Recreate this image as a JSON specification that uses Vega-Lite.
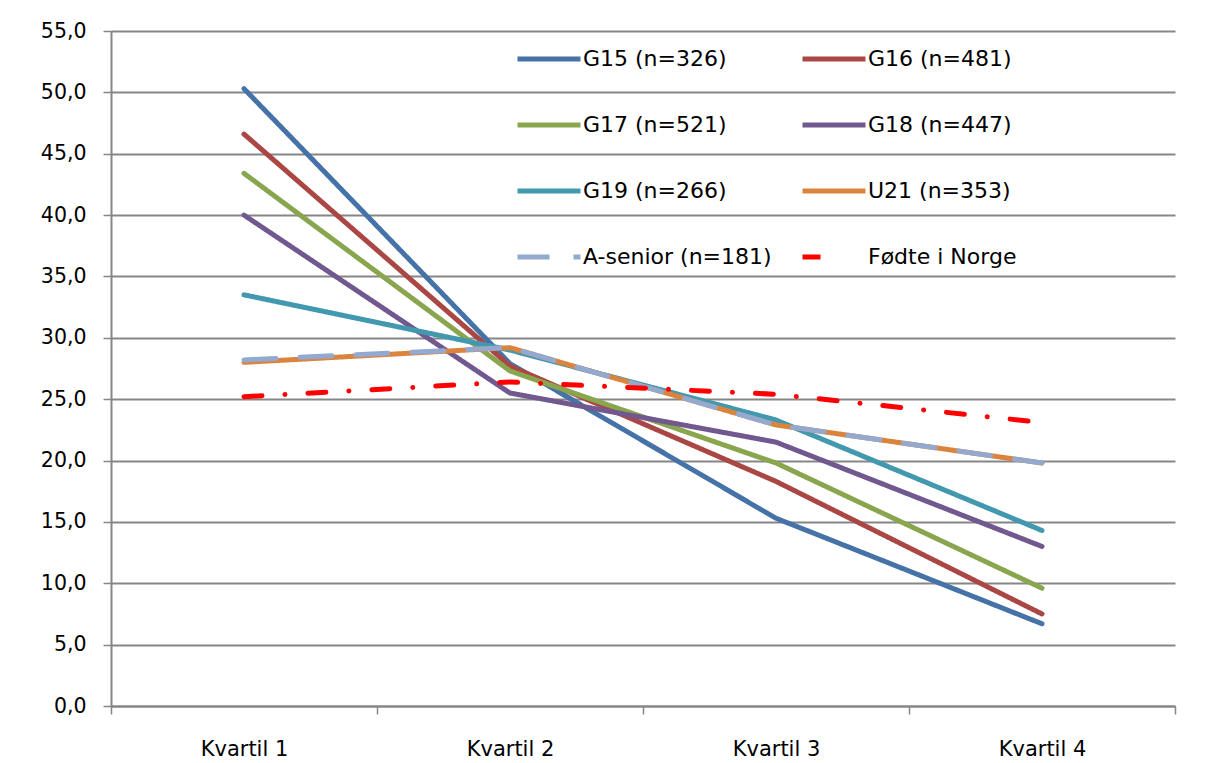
{
  "$schema": "https://vega.github.io/schema/vega-lite/v6.json",
  "width": 1064,
  "height": 675,
  "autosize": {"type": "none"},
  "padding": {"left": 111, "top": 31, "right": 43, "bottom": 57},
  "background": "white",
  "config": {
    "view": {"stroke": null},
    "font": "DejaVu Sans"
  },
  "data": {
    "values": [
      {"series": "G15 (n=326)", "kvartil": "Kvartil 1", "value": 50.3},
      {"series": "G15 (n=326)", "kvartil": "Kvartil 2", "value": 27.9},
      {"series": "G15 (n=326)", "kvartil": "Kvartil 3", "value": 15.3},
      {"series": "G15 (n=326)", "kvartil": "Kvartil 4", "value": 6.7},
      {"series": "G16 (n=481)", "kvartil": "Kvartil 1", "value": 46.6},
      {"series": "G16 (n=481)", "kvartil": "Kvartil 2", "value": 27.7},
      {"series": "G16 (n=481)", "kvartil": "Kvartil 3", "value": 18.3},
      {"series": "G16 (n=481)", "kvartil": "Kvartil 4", "value": 7.5},
      {"series": "G17 (n=521)", "kvartil": "Kvartil 1", "value": 43.4},
      {"series": "G17 (n=521)", "kvartil": "Kvartil 2", "value": 27.3},
      {"series": "G17 (n=521)", "kvartil": "Kvartil 3", "value": 19.8},
      {"series": "G17 (n=521)", "kvartil": "Kvartil 4", "value": 9.6},
      {"series": "G18 (n=447)", "kvartil": "Kvartil 1", "value": 40.0},
      {"series": "G18 (n=447)", "kvartil": "Kvartil 2", "value": 25.5},
      {"series": "G18 (n=447)", "kvartil": "Kvartil 3", "value": 21.5},
      {"series": "G18 (n=447)", "kvartil": "Kvartil 4", "value": 13.0},
      {"series": "G19 (n=266)", "kvartil": "Kvartil 1", "value": 33.5},
      {"series": "G19 (n=266)", "kvartil": "Kvartil 2", "value": 29.0},
      {"series": "G19 (n=266)", "kvartil": "Kvartil 3", "value": 23.3},
      {"series": "G19 (n=266)", "kvartil": "Kvartil 4", "value": 14.3},
      {"series": "U21 (n=353)", "kvartil": "Kvartil 1", "value": 28.0},
      {"series": "U21 (n=353)", "kvartil": "Kvartil 2", "value": 29.2},
      {"series": "U21 (n=353)", "kvartil": "Kvartil 3", "value": 22.9},
      {"series": "U21 (n=353)", "kvartil": "Kvartil 4", "value": 19.8},
      {"series": "A-senior (n=181)", "kvartil": "Kvartil 1", "value": 28.2},
      {"series": "A-senior (n=181)", "kvartil": "Kvartil 2", "value": 29.2},
      {"series": "A-senior (n=181)", "kvartil": "Kvartil 3", "value": 22.9},
      {"series": "A-senior (n=181)", "kvartil": "Kvartil 4", "value": 19.8},
      {"series": "Fødte i Norge", "kvartil": "Kvartil 1", "value": 25.2},
      {"series": "Fødte i Norge", "kvartil": "Kvartil 2", "value": 26.4},
      {"series": "Fødte i Norge", "kvartil": "Kvartil 3", "value": 25.4},
      {"series": "Fødte i Norge", "kvartil": "Kvartil 4", "value": 23.1}
    ]
  },
  "mark": {"type": "line", "strokeCap": "round", "strokeJoin": "round"},
  "encoding": {
    "x": {
      "field": "kvartil",
      "type": "nominal",
      "scale": {"type": "band", "paddingInner": 0, "paddingOuter": 0},
      "axis": {
        "title": null,
        "labelAngle": 0,
        "labelFontSize": 21,
        "labelColor": "black",
        "labelPadding": 24,
        "tickBand": "extent",
        "tickSize": 8,
        "tickColor": "#868686",
        "tickWidth": 1.5,
        "domainColor": "#868686",
        "domainWidth": 2,
        "grid": false
      }
    },
    "y": {
      "field": "value",
      "type": "quantitative",
      "scale": {"domain": [0, 55], "nice": false, "zero": true},
      "axis": {
        "title": null,
        "values": [0, 5, 10, 15, 20, 25, 30, 35, 40, 45, 50, 55],
        "labelExpr": "replace(format(datum.value, '.1f'), '.', ',')",
        "labelFontSize": 20.5,
        "labelColor": "black",
        "labelPadding": 17,
        "tickSize": 8,
        "tickColor": "#868686",
        "tickWidth": 1.5,
        "domainColor": "#868686",
        "domainWidth": 2,
        "gridColor": "#868686",
        "gridWidth": 2
      }
    },
    "color": {
      "field": "series",
      "type": "nominal",
      "sort": null,
      "scale": {
        "domain": ["G15 (n=326)", "G17 (n=521)", "G19 (n=266)", "A-senior (n=181)", "G16 (n=481)", "G18 (n=447)", "U21 (n=353)", "Fødte i Norge"],
        "range": ["#4572A7", "#89A54E", "#4198AF", "#93A9CF", "#AA4643", "#71588F", "#DB843D", "#FF0000"]
      },
      "legend": {
        "title": null,
        "orient": "none",
        "legendX": 404,
        "legendY": -6,
        "columns": 2,
        "symbolType": "stroke",
        "symbolSize": 3969,
        "symbolStrokeWidth": 5,
        "labelFontSize": 22,
        "labelColor": "black",
        "labelOffset": 0,
        "rowPadding": 21,
        "columnPadding": 20,
        "labelLimit": 400
      }
    },
    "strokeDash": {
      "field": "series",
      "type": "nominal",
      "sort": null,
      "scale": {
        "domain": ["G15 (n=326)", "G17 (n=521)", "G19 (n=266)", "A-senior (n=181)", "G16 (n=481)", "G18 (n=447)", "U21 (n=353)", "Fødte i Norge"],
        "range": [[1, 0], [1, 0], [1, 0], [32, 24], [1, 0], [1, 0], [1, 0], [18, 23, 0.01, 23]]
      }
    },
    "strokeWidth": {
      "field": "series",
      "type": "nominal",
      "scale": {
        "domain": ["G15 (n=326)", "G17 (n=521)", "G19 (n=266)", "A-senior (n=181)", "G16 (n=481)", "G18 (n=447)", "U21 (n=353)", "Fødte i Norge"],
        "range": [5, 5, 5, 5, 5, 5, 5, 6.5]
      },
      "legend": null
    }
  }
}
